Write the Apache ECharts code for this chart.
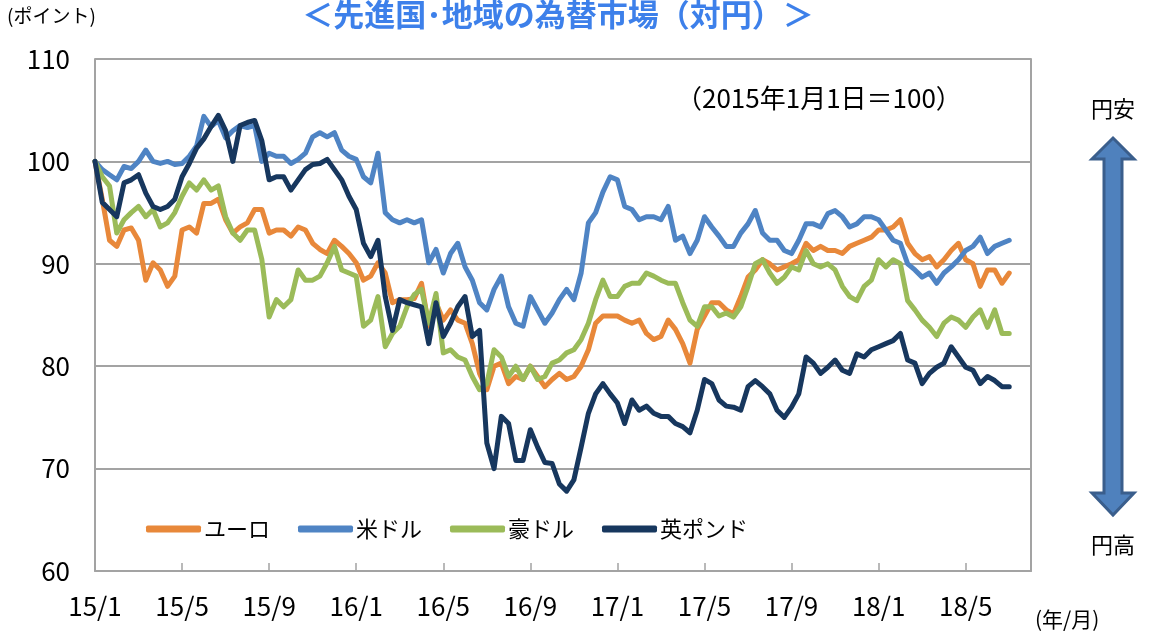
<!DOCTYPE html>
<html>
<head>
<meta charset="utf-8">
<title>先進国・地域の為替市場（対円）</title>
<script src="https://cdn.jsdelivr.net/npm/echarts@6/dist/echarts.min.js"></script>
<style>
	html, body { margin: 0; padding: 0; background: #fff; }
	#chart { width: 1149px; height: 637px; }
</style>
</head>
<body>
<div id="chart"></div>
<script>
// 旬ごと（上旬・中旬・下旬）に読み取った値　2015年1月1日＝100
var years = [15, 16, 17, 18];
var junLabels = ['上', '中', '下'];
var tickLabels = ['15/1', '15/5', '15/9', '16/1', '16/5', '16/9', '17/1', '17/5', '17/9', '18/1', '18/5'];
var seriesNames = ['ユーロ', '米ドル', '豪ドル', '英ポンド'];
var seriesColors = ['#e8883a', '#4f84c4', '#9bbb59', '#17375e'];

var eur = [
	100, 96.3, 92.3, 91.7, 93.3, 93.5, 92.3, 88.4, 90.1, 89.4, 87.8, 88.8, 93.3, 93.6, 93, 95.9, 95.9, 96.3, 94.3, 93, 93.6, 94, 95.3,
	95.3, 93, 93.3, 93.3, 92.7, 93.6, 93.3, 92, 91.4, 91, 92.3, 91.7, 91, 90.1, 88.4, 88.8, 90.1, 89.1, 86.2, 86.5, 86.5, 86.6,
	88.1, 83.9, 86.2, 84.5, 85.5, 84.5, 84.2, 82.2, 79.3, 77.7, 80, 80.3, 78.3, 79, 78.7, 80, 79, 78, 78.7, 79.3, 78.7,
	79, 80, 81.6, 84.2, 84.9, 84.9, 84.9, 84.5, 84.2, 84.5, 83.2, 82.6, 82.9, 84.5, 83.6, 82.2, 80.3, 83.6, 84.9, 86.2, 86.2, 85.5,
	85.1, 86.8, 88.7, 89.4, 90.4, 90, 89.4, 89.7, 90, 90.4, 92, 91.3, 91.7, 91.3, 91.3, 91, 91.7, 92, 92.3, 92.6, 93.3, 93.3,
	93.6, 94.3, 92, 91, 90.4, 90.7, 89.7, 90.4, 91.3, 92, 90.4, 90, 87.8, 89.4, 89.4, 88.1, 89.1
];
var usd = [
	100, 99.2, 98.7, 98.2, 99.5, 99.3, 100, 101.1, 100, 99.8, 100, 99.7, 99.8, 100.5, 101.5, 104.4, 103.4, 104, 102.3, 103, 103.5, 103.3, 103.5,
	100, 100.8, 100.5, 100.5, 99.8, 100.2, 100.8, 102.4, 102.8, 102.4, 102.8, 101.1, 100.5, 100.2, 98.5, 97.9, 100.8, 95, 94.3, 94, 94.3, 94,
	94.3, 90.1, 91.4, 89.1, 91, 92, 89.7, 88.4, 86.2, 85.5, 87.5, 88.8, 85.8, 84.2, 83.9, 86.8, 85.5, 84.2, 85.2, 86.5, 87.5,
	86.5, 89.1, 94, 95, 97, 98.5, 98.2, 95.6, 95.3, 94.3, 94.6, 94.6, 94.3, 95.6, 92.3, 92.7, 91, 92.3, 94.6, 93.6, 92.7, 91.7,
	91.7, 93, 93.9, 95.2, 93, 92.3, 92.3, 91.3, 91, 92.3, 93.9, 93.9, 93.6, 94.9, 95.2, 94.6, 93.6, 93.9, 94.6, 94.6, 94.3, 93.3,
	92.3, 92, 90, 89.4, 88.7, 89.1, 88.1, 89.1, 89.7, 90.4, 91.3, 91.7, 92.6, 91, 91.7, 92, 92.3
];
var aud = [
	100, 98.5, 97.6, 93, 94.3, 95, 95.6, 94.6, 95.3, 93.6, 94, 95, 96.6, 97.9, 97.2, 98.2, 97.2, 97.6, 94.6, 93, 92.3, 93.3, 93.3,
	90.4, 84.8, 86.5, 85.8, 86.5, 89.4, 88.4, 88.4, 88.8, 90.1, 91.7, 89.4, 89.1, 88.8, 83.9, 84.5, 86.8, 81.9, 83.2, 83.9, 85.8, 87,
	87.5, 84.2, 87.1, 81.3, 81.6, 80.9, 80.6, 79, 77.7, 78.3, 81.6, 80.9, 79, 80, 78.7, 80, 78.7, 79, 80.3, 80.6, 81.3,
	81.6, 82.6, 84.2, 86.5, 88.4, 86.8, 86.8, 87.8, 88.1, 88.1, 89.1, 88.8, 88.4, 88.1, 88.1, 86.2, 84.5, 83.9, 85.8, 85.8, 84.9, 85.2,
	84.8, 85.8, 87.8, 90, 90.4, 89.1, 88.1, 88.7, 89.7, 89.4, 91.3, 90, 89.7, 90, 89.4, 87.8, 86.8, 86.4, 87.8, 88.4, 90.4, 89.7,
	90.4, 90, 86.4, 85.5, 84.5, 83.8, 82.9, 84.2, 84.8, 84.5, 83.8, 84.8, 85.5, 83.8, 85.5, 83.2, 83.2
];
var gbp = [
	100, 96, 95.3, 94.6, 97.9, 98.2, 98.7, 96.9, 95.6, 95.3, 95.6, 96.3, 98.5, 99.8, 101.3, 102.2, 103.4, 104.5, 103, 100, 103.5, 103.8, 104,
	102, 98.2, 98.5, 98.5, 97.2, 98.2, 99.2, 99.7, 99.8, 100.2, 99.2, 98.2, 96.6, 95.3, 92, 90.7, 92.3, 86.8, 83.5, 86.5, 86.2, 86,
	85.8, 82.2, 86.2, 82.9, 84.2, 85.8, 86.8, 82.9, 83.5, 72.5, 70, 75.1, 74.4, 70.8, 70.8, 73.8, 72.1, 70.6, 70.5, 68.5, 67.8,
	68.9, 72.1, 75.4, 77.3, 78.3, 77.3, 76.4, 74.4, 76.7, 75.7, 76.1, 75.4, 75.1, 75.1, 74.4, 74.1, 73.5, 75.7, 78.7, 78.3, 76.7, 76.1,
	76, 75.7, 78, 78.6, 78, 77.3, 75.7, 75, 76, 77.3, 80.9, 80.3, 79.3, 79.9, 80.6, 79.6, 79.3, 81.2, 80.9, 81.6, 81.9, 82.2,
	82.5, 83.2, 80.6, 80.3, 78.3, 79.3, 79.9, 80.3, 81.9, 80.9, 79.9, 79.6, 78.3, 79, 78.6, 78, 78
];

// 横軸：15/1上 〜 18/8上
var categories = [];
for (var y = 0; y < years.length; y++) {
	for (var m = 1; m <= 12; m++) {
		for (var j = 0; j < junLabels.length; j++) {
			if (years[y] === 18 && (m > 8 || (m === 8 && j > 0))) break;
			categories.push(years[y] + '/' + m + junLabels[j]);
		}
	}
}

// 4か月ごとの目盛り（上旬の位置）
function isTick(index, value) {
	var v = String(value);
	return v.slice(-1) === '上' && tickLabels.indexOf(v.slice(0, -1)) >= 0;
}

var chart = echarts.init(document.getElementById('chart'));

var font = '"Noto Sans CJK JP", "Noto Sans", sans-serif';
var gridColor = '#a3a3a3';

var dataList = [eur, usd, aud, gbp];
var series = [];
for (var i = 0; i < seriesNames.length; i++) {
	series.push({
		name: seriesNames[i],
		type: 'line',
		data: dataList[i],
		showSymbol: false,
		symbol: 'none',
		lineStyle: { width: 5, color: seriesColors[i], cap: 'round', join: 'round' },
		itemStyle: { color: seriesColors[i] }
	});
}

// 右側の円安・円高矢印
var arrowPoints = [
	[1113, 138], [1134, 159], [1122, 159], [1122, 493], [1134, 493],
	[1113, 515], [1092, 493], [1104, 493], [1104, 159], [1092, 159]
];

var option = {
	backgroundColor: '#fff',
	animation: false,
	textStyle: { fontFamily: font },
	title: {
		text: '＜先進国･地域の為替市場（対円）＞',
		left: 553,
		top: -6,
		textAlign: 'center',
		textStyle: { color: '#3d80ea', fontSize: 31, fontWeight: 'bold', fontFamily: font }
	},
	grid: { left: 95, right: 118, top: 59, bottom: 66 },
	legend: {
		data: seriesNames,
		left: 146,
		top: 518,
		icon: 'roundRect',
		itemWidth: 55,
		itemHeight: 7,
		itemGap: 28,
		padding: 0,
		textStyle: { fontSize: 22, color: '#000', fontFamily: font, padding: [0, 0, 0, -2] }
	},
	xAxis: {
		type: 'category',
		data: categories,
		boundaryGap: false,
		axisLine: { lineStyle: { color: gridColor, width: 2 } },
		axisTick: { inside: true, length: 8, interval: isTick, lineStyle: { color: gridColor, width: 1.5 } },
		axisLabel: {
			interval: isTick,
			margin: 22,
			fontSize: 26,
			color: '#000',
			fontFamily: font,
			formatter: function(v) { return v.slice(0, -1); }
		},
		splitLine: { show: false }
	},
	yAxis: [{
		type: 'value',
		min: 60,
		max: 110,
		interval: 10,
		axisLine: { show: true, lineStyle: { color: gridColor, width: 2 } },
		axisTick: { show: false },
		axisLabel: { margin: 25, fontSize: 26, color: '#000', fontFamily: font },
		splitLine: { lineStyle: { color: gridColor, width: 2 } }
	}, {
		type: 'value',
		position: 'right',
		min: 60,
		max: 110,
		interval: 10,
		axisLine: { show: true, lineStyle: { color: gridColor, width: 2 } },
		axisTick: { show: false },
		axisLabel: { show: false },
		splitLine: { show: false }
	}],
	series: series,
	graphic: [
		{ type: 'text', left: 7, top: 6, style: { text: '(ポイント)', fontSize: 19, fill: '#000', fontFamily: font } },
		{ type: 'text', left: 1035, top: 609, style: { text: '(年/月)', fontSize: 21, fill: '#000', fontFamily: font } },
		{ type: 'text', left: 676, top: 85, style: { text: '（2015年1月1日＝100）', fontSize: 26, fill: '#000', fontFamily: font } },
		{ type: 'text', x: 1113, y: 109, style: { text: '円安', fontSize: 22, fill: '#000', fontFamily: font, align: 'center', verticalAlign: 'middle' } },
		{ type: 'text', x: 1113, y: 545, style: { text: '円高', fontSize: 22, fill: '#000', fontFamily: font, align: 'center', verticalAlign: 'middle' } },
		{
			type: 'polygon',
			shape: { points: arrowPoints },
			style: { fill: '#4f81bd', stroke: '#3a5e8c', lineWidth: 3 }
		}
	]
};

chart.setOption(option);

window.onresize = function() {
	chart.resize();
};
</script>
</body>
</html>
